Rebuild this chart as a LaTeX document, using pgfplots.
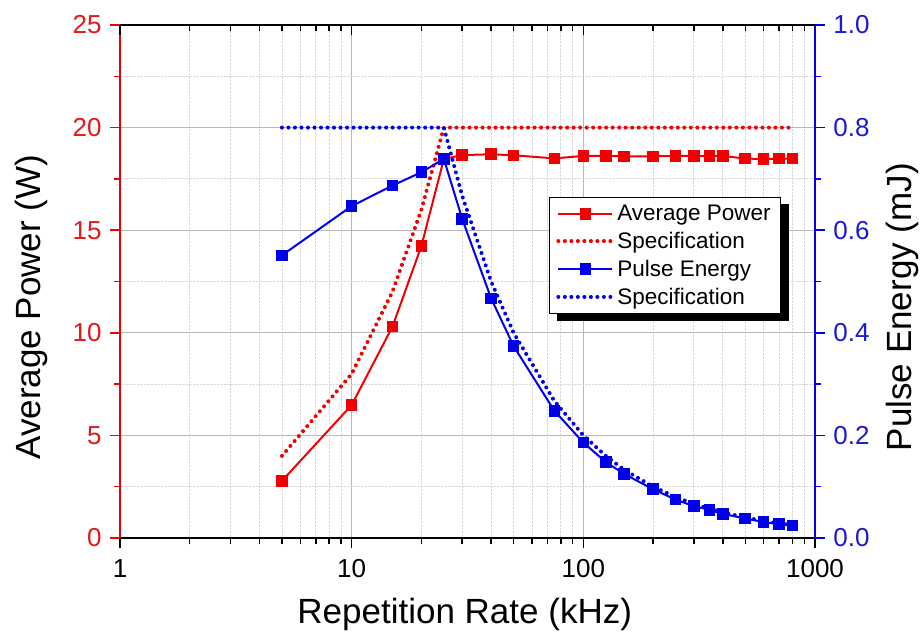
\documentclass[border=0pt]{standalone}
\usepackage{fontspec}
\setmainfont{Liberation Sans}
\usepackage{pgfplots}
\pgfplotsset{compat=1.18}
\definecolor{myred}{RGB}{240,0,0}
\definecolor{myblue}{RGB}{0,0,235}
\definecolor{redtxt}{RGB}{225,25,25}
\definecolor{bluetxt}{RGB}{25,25,215}
\tikzset{
  specline/.style={dash pattern=on 0.01pt off 6.5pt, line cap=round, line width=4pt},
  measline/.style={line width=2pt, mark=square*, mark size=4.8pt, mark options={solid}},
}
\pgfplotsset{
  /pgf/number format/1000 sep={},
  /pgf/number format/assume math mode=true,
  legend image code/.code={\draw[mark repeat=2,mark phase=2,#1] plot coordinates {(0pt,0pt) (27pt,0pt) (54pt,0pt)};},
  mylegend/.style={legend style={at={(axis description cs:0.617,0.665)}, anchor=north west,
    line width=1pt, font=\fontsize{22.5}{26}\selectfont,
    row sep=6pt, inner xsep=7pt, inner ysep=6pt, nodes={inner xsep=3pt, inner ysep=2pt}},
    legend cell align=left},
}
\begin{document}
\begin{tikzpicture}
\useasboundingbox (-120pt,-102pt) rectangle (804pt,538pt);
% left (red) axis
\begin{axis}[scale only axis, width=695pt, height=513pt,
  xmode=log, xmin=1, xmax=1000, log ticks with fixed point,
  major tick length=10pt, minor tick length=6pt,
  axis line style={line width=2pt},
  tick label style={font=\fontsize{26}{30}\selectfont},
  axis x line*=bottom, axis y line*=left,
  ymin=0, ymax=25, ytick={0,5,10,15,20,25}, minor y tick num=1,
  tick align=outside,
  grid=both, major grid style={gray!55, line width=1pt},
  minor grid style={gray!30, densely dotted, line width=0.8pt},
  y axis line style={myred}, ytick style={myred, line width=1.5pt},
  yticklabel style={redtxt, xshift=-5pt},
  xticklabel style={yshift=-8pt},
  xtick style={black, line width=1.5pt},
  xlabel={Repetition Rate (kHz)}, ylabel={Average Power (W)},
  every axis x label/.style={at={(axis description cs:0.496,-0.15)}, anchor=center, font=\fontsize{35}{42}\selectfont},
  every axis y label/.style={at={(axis description cs:-0.128,0.45)}, rotate=90, anchor=center, font=\fontsize{35}{42}\selectfont},
]
\addplot[myred, specline] coordinates {(5,4)(10,8)(15,12)(20,16)(25,20)(800,20)};
\addplot[myred, measline] coordinates {(5,2.78)(10,6.48)(15,10.30)(20,14.23)(25,18.47)(30,18.66)(40,18.70)(50,18.65)(75,18.50)(100,18.62)(125,18.62)(150,18.60)(200,18.60)(250,18.62)(300,18.62)(350,18.62)(400,18.62)(500,18.49)(600,18.47)(700,18.49)(800,18.49)};
\end{axis}
% top ticks, and the legend's shadow
\begin{axis}[scale only axis, width=695pt, height=513pt,
  xmode=log, xmin=1, xmax=1000,
  major tick length=10pt, minor tick length=6pt,
  axis line style={line width=2pt},
  axis x line*=top, axis y line=none, ymin=0, ymax=1,
  tick align=inside, xticklabels={}, xtick style={black, line width=1.5pt},
  mylegend,
  legend style={xshift=8pt, yshift=-7pt, draw=black, fill=black, text=black},
]
\addlegendimage{black, measline}
\addlegendimage{black, specline}
\addlegendimage{black, measline}
\addlegendimage{black, specline}
\addplot[draw=none, forget plot] coordinates {(2,0.5)};
\legend{\phantom{Average Power}, \phantom{Specification}, \phantom{Pulse Energy}, \phantom{Specification}}
\end{axis}
% right (blue) axis
\begin{axis}[scale only axis, width=695pt, height=513pt,
  xmode=log, xmin=1, xmax=1000,
  major tick length=10pt, minor tick length=6pt,
  axis line style={line width=2pt},
  tick label style={font=\fontsize{26}{30}\selectfont},
  axis x line=none, axis y line*=right,
  ymin=0, ymax=1, ytick={0,0.2,0.4,0.6,0.8,1}, minor y tick num=1,
  tick align=outside,
  y axis line style={myblue}, ytick style={myblue, line width=1.5pt},
  yticklabel style={bluetxt, xshift=5pt, /pgf/number format/fixed, /pgf/number format/fixed zerofill, /pgf/number format/precision=1},
  ylabel={Pulse Energy (mJ)},
  every axis y label/.style={at={(axis description cs:1.126,0.45)}, rotate=90, anchor=center, font=\fontsize{35}{42}\selectfont},
  mylegend,
  legend style={draw=black, fill=white},
]
\addlegendimage{myred, measline}
\addlegendimage{myred, specline}
\addlegendimage{myblue, measline}
\addlegendimage{myblue, specline}
\addplot[myblue, specline, forget plot] coordinates {(5,0.8)(25,0.8)(30,0.667)(40,0.5)(50,0.4)(75,0.267)(100,0.2)(125,0.16)(150,0.133)(200,0.1)(250,0.08)(300,0.0667)(350,0.0571)(400,0.05)(500,0.04)(600,0.0333)(700,0.0286)(800,0.025)};
\addplot[myblue, measline, forget plot] coordinates {(5,0.551)(10,0.647)(15,0.687)(20,0.713)(25,0.739)(30,0.622)(40,0.467)(50,0.374)(75,0.248)(100,0.186)(125,0.148)(150,0.125)(200,0.095)(250,0.075)(300,0.062)(350,0.055)(400,0.047)(500,0.038)(600,0.031)(700,0.027)(800,0.024)};
\legend{Average Power, Specification, Pulse Energy, Specification}
\end{axis}
\end{tikzpicture}
\end{document}
